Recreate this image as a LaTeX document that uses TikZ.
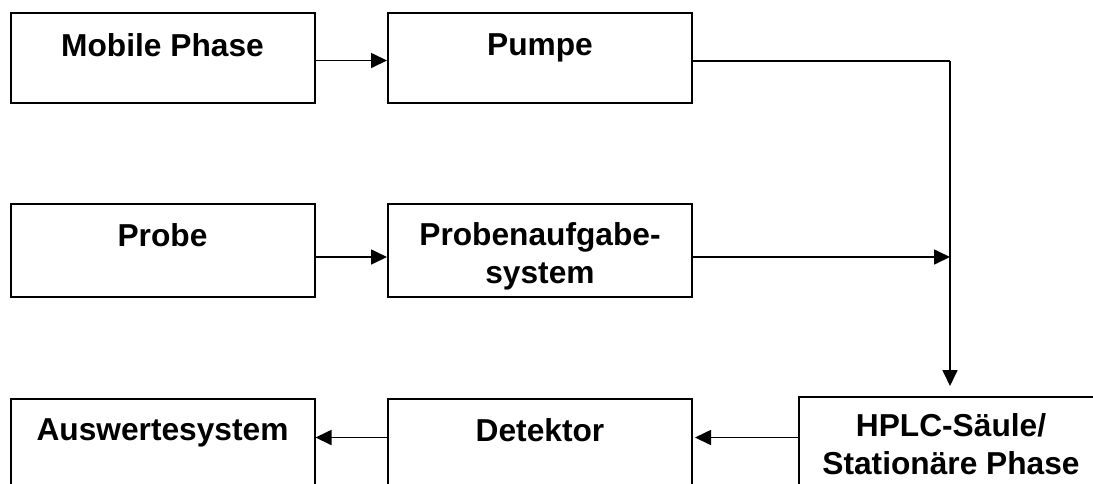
\documentclass[tikz,border=0pt]{standalone}
\usepackage{fontspec}
\setmainfont{Liberation Sans}
\usetikzlibrary{arrows.meta}
\begin{document}
\begin{tikzpicture}[x=1pt,y=-1pt,
  box/.style={draw=black, line width=2pt, rectangle, inner sep=0pt, minimum width=304pt, anchor=north west},
  txt/.style={inner sep=0pt, anchor=north, align=center, font=\bfseries\fontsize{31.7}{38}\selectfont},
  arr/.style={line width=1.7pt, -{Triangle[length=16pt,width=15pt]}},
  ln/.style={line width=1.7pt}]
\useasboundingbox (0,0) rectangle (1093,483);
\clip (0,0) rectangle (1093,483);
\fill[white] (0,0) rectangle (1093,483);
% boxes
\node[box, minimum height=90pt] (mob) at (9.5,12) {};
\node[box, minimum height=90pt] (pump) at (387,12) {};
\node[box, minimum height=93pt] (probe) at (9.5,203) {};
\node[box, minimum height=93pt] (pas) at (387,203) {};
\node[box, minimum height=110pt] (aus) at (9.5,398) {};
\node[box, minimum height=110pt] (det) at (387,398) {};
\node[box, minimum height=110pt] (hplc) at (798,396) {};
% texts
\node[txt, yshift=-21pt] (mobT) at (mob.north) {Mobile Phase};
\node[txt, yshift=-21pt] (pumpT) at (pump.north) {Pumpe};
\node[txt, yshift=-20pt] (probeT) at (probe.north) {Probe};
\node[txt, yshift=-19pt] (pasT) at (pas.north) {Probenaufgabe-\\system};
\node[txt, yshift=-20pt] (ausT) at (aus.north) {Auswertesystem};
\node[txt, yshift=-20pt] (detT) at (det.north) {Detektor};
\node[txt, yshift=-17pt] (hplcT) at (hplc.north) {HPLC-Säule/\\Stationäre Phase};
% helper coordinates
\coordinate (y1) at (0,60.5);
\coordinate (y2) at (0,61);
\coordinate (y3) at (0,257);
\coordinate (y4) at (0,437.5);
\coordinate (turn) at (950,61);
\coordinate (join) at (950,257);
\coordinate (down) at (950,386);
% connectors
\draw[arr] (mob.east |- y1) -- (pump.west |- y1);
\draw[ln] (pump.east |- y2) -- (turn);
\draw[arr] (turn) -- (down);
\draw[arr] (probe.east |- y3) -- (pas.west |- y3);
\draw[arr] (pas.east |- y3) -- (join);
\draw[arr, shorten >=2pt] (hplc.west |- y4) -- (det.east |- y4);
\draw[arr] (det.west |- y4) -- (aus.east |- y4);
\end{tikzpicture}
\end{document}
